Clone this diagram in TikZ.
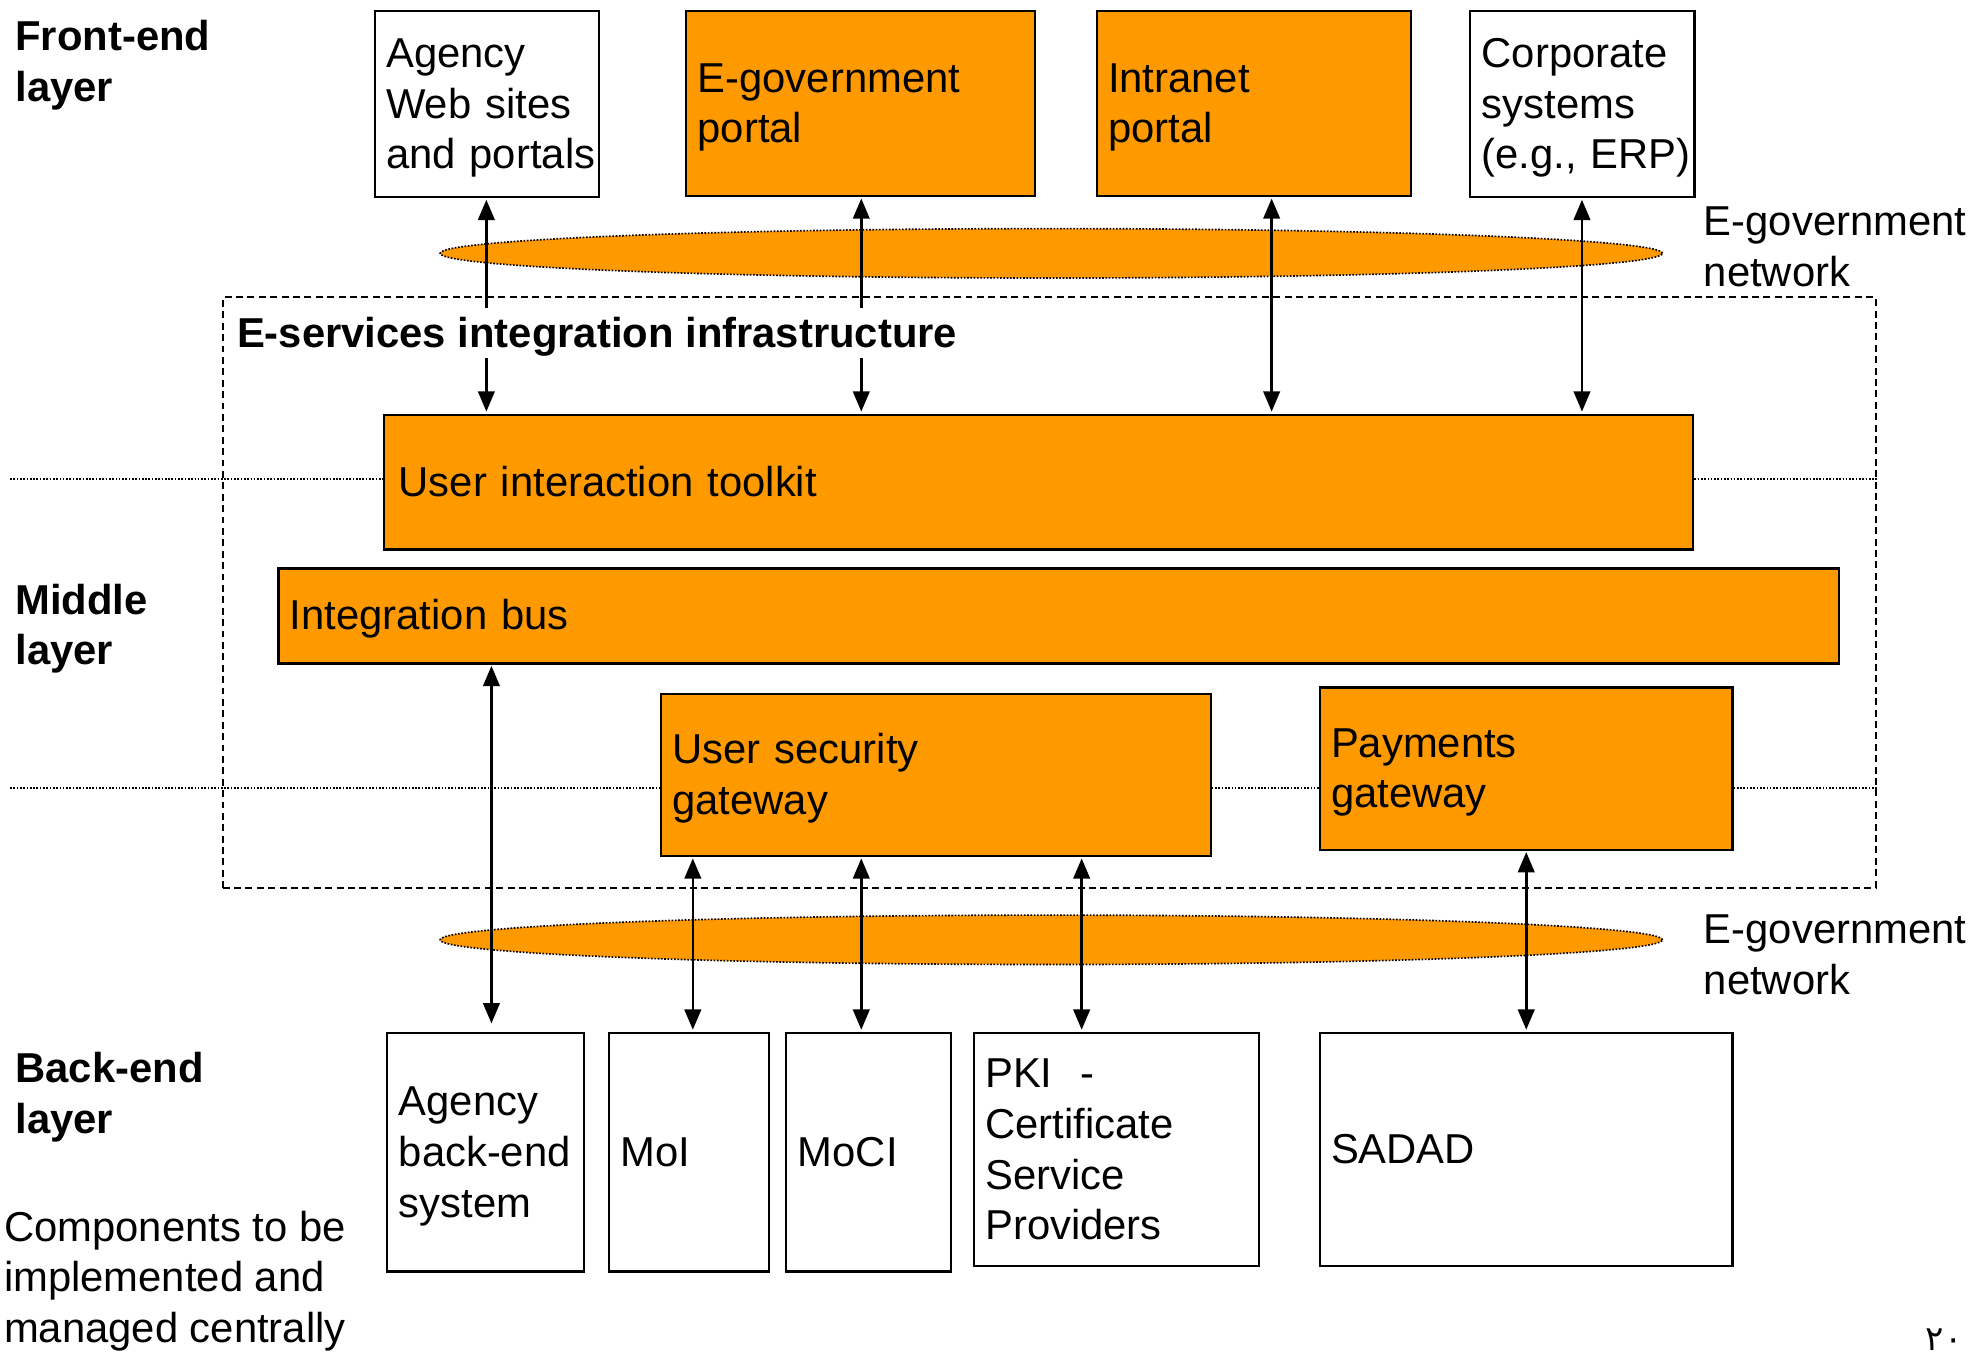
\documentclass[tikz,border=0pt]{standalone}
\usepackage{fontspec}
\setmainfont{Liberation Sans}
\newfontfamily\arabicfont[Script=Arabic]{DejaVu Sans}
\usetikzlibrary{arrows.meta,calc,shapes.geometric}
\definecolor{gorange}{RGB}{255,153,0}
\newcommand\ls{\rule[-9pt]{0pt}{40pt}}
\begin{document}
\begin{tikzpicture}[x=1pt,y=-1pt,
  txt/.style={font=\fontsize{33}{40}\selectfont, inner sep=0pt, align=left},
  box/.style={txt, draw=black, line width=1.7pt, anchor=north west, inner xsep=9pt, inner ysep=0pt},
  wbox/.style={box, fill=white},
  obox/.style={box, fill=gorange},
  lbl/.style={txt, anchor=west},
  blbl/.style={lbl, font=\fontsize{33}{40}\selectfont\bfseries},
  arr/.style={{Triangle[length=16pt,width=13pt]}-{Triangle[length=16pt,width=13pt]}, line width=2pt},
  net/.style={ellipse, fill=gorange, draw=black, line width=1.3pt, dash pattern=on 1.3pt off 1.3pt, inner sep=0pt},
  sep/.style={line width=1.3pt, dash pattern=on 1.3pt off 1.3pt},
  frame/.style={draw=black, line width=1.6pt, dash pattern=on 5.5pt off 3.5pt, anchor=north west, inner sep=0pt}
]
\useasboundingbox (0,0) rectangle (1568,1070);

% layer labels
\node[blbl] (lfront) at (12,49) {\ls Front-end\\layer\ls};
\node[blbl] (lmid) at (12,494) {\ls Middle\\layer\ls};
\node[blbl] (lback) at (12,864) {\ls Back-end\\layer\ls};
\node[lbl] (lcomp) at (3,1009) {\ls Components to be\\implemented and\\managed centrally\ls};

% integration infrastructure frame
\node[frame, minimum width=1305, minimum height=466] (infra) at (175,234) {};

% networks
\node[net, minimum width=965, minimum height=39] (net1) at (830,200) {};
\node[net, minimum width=965, minimum height=39] (net2) at (830,742) {};
\node[lbl] (lnet1) at (1345,195) {\ls E-government\\network\ls};
\node[lbl] (lnet2) at (1345,754) {\ls E-government\\network\ls};

% front-end boxes
\node[wbox, minimum width=177, minimum height=147, text width=159] (a1) at (295,8) {\ls Agency\\Web~sites\\and~portals\ls};
\node[obox, minimum width=275, minimum height=146, text width=257] (a2) at (541,8) {\ls E-government\\portal\ls};
\node[obox, minimum width=248, minimum height=146, text width=230] (a3) at (865,8) {\ls Intranet\\portal\ls};
\node[wbox, minimum width=177, minimum height=147, text width=159] (a4) at (1160,8) {\ls Corporate\\systems\\(e.g.,~ERP)\ls};

% middle layer boxes
\node[obox, minimum width=1034, minimum height=106, text width=1010, inner xsep=12pt] (uit) at (302,327) {\ls User interaction toolkit\ls};
\node[obox, minimum width=1232, minimum height=75, text width=1214] (bus) at (219,448) {\ls Integration bus\ls};
\node[obox, minimum width=434, minimum height=128, text width=416] (usg) at (521,547) {\ls User security\\gateway\ls};
\node[obox, minimum width=326, minimum height=128, text width=308] (pay) at (1041,542) {\ls Payments\\gateway\ls};

% dotted layer separators
\coordinate (s1) at (8,378);
\coordinate (s2) at (8,622);
\draw[sep] (s1) -- (s1 -| uit.west);
\draw[sep] (s1 -| uit.east) -- (s1 -| infra.east);
\draw[sep] (s2) -- (s2 -| usg.west);
\draw[sep] (s2 -| usg.east) -- (s2 -| pay.west);
\draw[sep] (s2 -| pay.east) -- (s2 -| infra.east);

% back-end boxes
\node[wbox, minimum width=155, minimum height=188, text width=137] (b1) at (305,815) {\ls Agency\\\mbox{back-end}\\system\ls};
\node[wbox, minimum width=126, minimum height=188, text width=108] (b2) at (480,815) {\ls MoI\ls};
\node[wbox, minimum width=130, minimum height=188, text width=112] (b3) at (620,815) {\ls MoCI\ls};
\node[wbox, minimum width=225, minimum height=184, text width=207] (b4) at (768,815) {\ls PKI~~-\\Certificate\\Service\\Providers\ls};
\node[wbox, minimum width=326, minimum height=184, text width=308] (b5) at (1041,815) {\ls SADAD\ls};

% connector columns
\coordinate (x1) at (384,0);
\coordinate (x2) at (680,0);
\coordinate (x3) at (1004,0);
\coordinate (x4) at (1249,0);
\coordinate (y1) at (388,0);
\coordinate (y2) at (547,0);
\coordinate (y3) at (680,0);
\coordinate (y4) at (854,0);
\coordinate (y5) at (1205,0);

% front-end connectors
\draw[arr, shorten <=1pt, shorten >=2pt] (a1.south -| x1) -- (uit.north -| x1);
\draw[arr, shorten <=1pt, shorten >=2pt] (a2.south -| x2) -- (uit.north -| x2);
\draw[arr, shorten <=1pt, shorten >=2pt] (a3.south -| x3) -- (uit.north -| x3);
\draw[arr, shorten <=1pt, shorten >=2pt] (a4.south -| x4) -- (uit.north -| x4);

% back-end connectors
\draw[arr, shorten <=1pt, shorten >=7pt] (bus.south -| y1) -- (b1.north -| y1);
\draw[arr, shorten <=1pt, shorten >=2pt] (usg.south -| y2) -- (b2.north -| y2);
\draw[arr, shorten <=1pt, shorten >=2pt] (usg.south -| y3) -- (b3.north -| y3);
\draw[arr, shorten <=1pt, shorten >=2pt] (usg.south -| y4) -- (b4.north -| y4);
\draw[arr, shorten <=1pt, shorten >=2pt] (pay.south -| y5) -- (b5.north -| y5);

% infrastructure title (masks the connectors behind it)
\node[blbl, fill=white, inner xsep=2pt] (infratitle) at (185,263) {\ls E-services integration infrastructure\ls};

% page number
\node[font=\arabicfont\fontsize{27}{30}\selectfont, inner sep=0pt] (pg) at (1535,1058) {٢٠};
\end{tikzpicture}
\end{document}
